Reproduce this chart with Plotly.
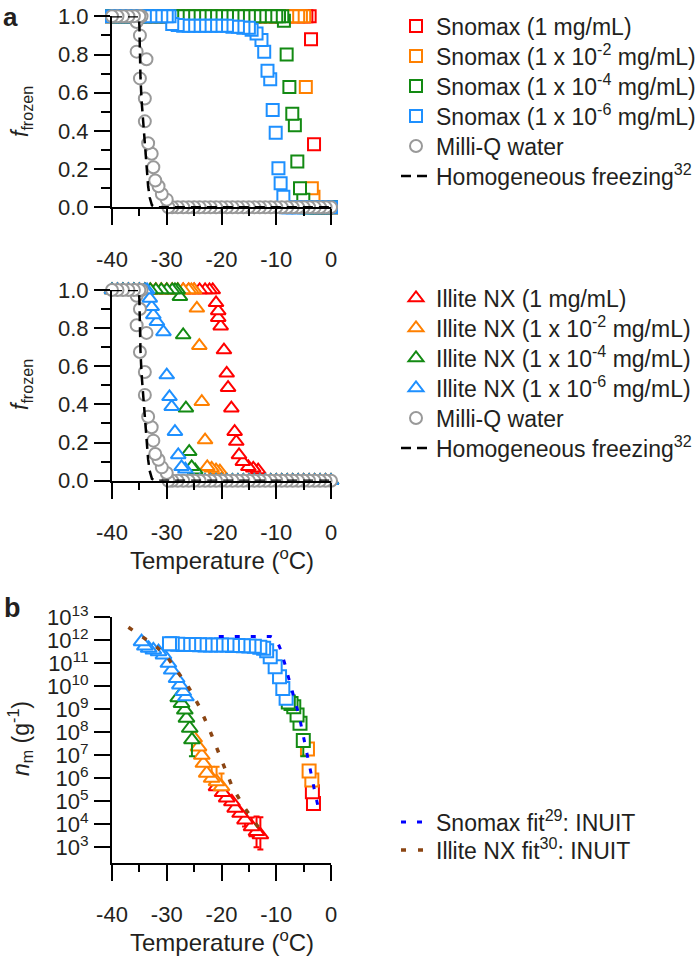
import plotly.graph_objects as go

# ---------------- Panel a (top): Snomax, fraction frozen vs temperature ----------------
T_SNO1 = [0, -1, -2, -2.6, -3.1, -3.65, -3.9, -4.5, -5, -6, -7, -8, -9, -10, -11, -12, -13, -14, -15, -16,
          -17, -18, -19, -20, -21, -22, -23, -24, -25, -26, -27, -28, -29, -30, -31, -32, -33, -34, -35, -36,
          -37, -38, -39, -40]
F_SNO1 = [0, 0, 0, 0, 0.33, 0.88, 1, 1, 1, 1, 1, 1, 1, 1, 1, 1, 1, 1, 1, 1,
          1, 1, 1, 1, 1, 1, 1, 1, 1, 1, 1, 1, 1, 1, 1, 1, 1, 1, 1, 1,
          1, 1, 1, 1]

T_SNO2 = [0, -1, -2, -2.8, -3.2, -3.5, -4.6, -4.9, -5.5, -6, -7, -8, -9, -10, -11, -12, -13, -14, -15, -16,
          -17, -18, -19, -20, -21, -22, -23, -24, -25, -26, -27, -28, -29, -30, -31, -32, -33, -34, -35, -36,
          -37, -38, -39, -40]
F_SNO2 = [0, 0, 0, 0, 0.055, 0.10, 0.63, 1, 1, 1, 1, 1, 1, 1, 1, 1, 1, 1, 1, 1,
          1, 1, 1, 1, 1, 1, 1, 1, 1, 1, 1, 1, 1, 1, 1, 1, 1, 1, 1, 1,
          1, 1, 1, 1]

T_SNO3 = [0, -1, -2, -3, -4, -4.5, -5.06, -5.66, -6.15, -6.6, -7.07, -7.6, -8.1, -8.6, -8.9, -9.5,
          -10, -11, -12, -13, -14, -15, -16, -17, -18, -19, -20, -21, -22, -23, -24, -25, -26, -27, -28, -29,
          -30, -31, -32, -33, -34, -35, -36, -37, -38, -39, -40]
F_SNO3 = [0, 0, 0, 0, 0, 0, 0.04, 0.10, 0.24, 0.43, 0.49, 0.63, 0.80, 0.977, 1, 1,
          1, 1, 1, 1, 1, 1, 1, 1, 1, 1, 1, 1, 1, 1, 1, 1, 1, 1, 1, 1,
          1, 1, 1, 1, 1, 1, 1, 1, 1, 1, 1]

T_SNO4 = [0, -1, -2, -3, -4, -5, -6, -7, -7.7, -8.2,
          -8.7, -9.2, -9.6, -10.1, -10.65, -11.1, -11.6, -12.2, -12.7, -13.6, -14.5,
          -15, -16, -17, -18, -19, -20, -21, -22, -23, -24, -25, -26, -27, -28, -29,
          -29.5, -30, -31, -32, -33, -34, -35, -36, -37, -38, -39, -40]
F_SNO4 = [0, 0, 0, 0, 0, 0, 0, 0, 0, 0,
          0.055, 0.126, 0.204, 0.39, 0.51, 0.67, 0.715, 0.815, 0.876, 0.91, 0.93,
          0.94, 0.94, 0.945, 0.945, 0.95, 0.95, 0.95, 0.95, 0.95, 0.95, 0.95, 0.95, 0.95, 0.955, 0.96,
          1, 1, 1, 1, 1, 1, 1, 1, 1, 1, 1, 1]

# Milli-Q water (shown in both panel a plots)
T_MQ = [0, -1, -2, -3, -4, -5, -6, -7, -8, -9, -10, -11, -12, -13, -14, -15, -16, -17, -18, -19,
        -20, -21, -22, -23, -24, -25, -26, -27, -28, -29,
        -29.7, -30.0, -30.9, -31.5, -32.1, -32.45, -32.75, -33.4, -34.0, -34.0, -34.9, -33.7, -35.5, -34.9, -35.5,
        -34.6, -35, -36, -37, -38, -39, -40]
F_MQ = [0, 0, 0, 0, 0, 0, 0, 0, 0, 0, 0, 0, 0, 0, 0, 0, 0, 0, 0, 0,
        0, 0, 0, 0, 0, 0, 0, 0, 0, 0,
        0, 0.04, 0.07, 0.11, 0.14, 0.21, 0.28, 0.335, 0.45, 0.57, 0.675, 0.775, 0.815, 0.90, 0.97,
        1, 1, 1, 1, 1, 1, 1]

# Homogeneous freezing parameterisation
T_HOM = [-40, -35.1, -35.0, -34.9, -34.8, -34.6, -34.3, -34.0, -33.7, -33.4, -33.1, -32.7, -32.0, 0]
F_HOM = [1, 1, 0.95, 0.8, 0.68, 0.56, 0.44, 0.32, 0.21, 0.11, 0.05, 0.01, 0, 0]

# ---------------- Panel a (bottom): Illite NX ----------------
T_ILL1 = [0, -1, -2, -3, -4, -5, -6, -7, -8, -9, -10, -11, -12, -12.7,
          -13.3, -14.2, -15.1, -16.1, -16.8, -17.3, -17.6, -18.2, -18.8, -19.05, -19.55, -20.15, -20.6, -20.6, -21.0,
          -21.6, -22.2, -23, -24, -25, -26, -27, -28, -29, -30, -31, -32, -33, -34, -35, -36, -37, -38, -39, -40]
F_ILL1 = [0, 0, 0, 0, 0, 0, 0, 0, 0, 0, 0, 0, 0, 0,
          0.056, 0.065, 0.073, 0.10, 0.135, 0.205, 0.257, 0.38, 0.488, 0.563, 0.685, 0.81, 0.855, 0.89, 0.933,
          1, 1, 1, 1, 1, 1, 1, 1, 1, 1, 1, 1, 1, 1, 1, 1, 1, 1, 1, 1]

T_ILL2 = [0, -1, -2, -3, -4, -5, -6, -7, -8, -9, -10, -11, -12, -13, -14, -15, -16, -17, -18, -19, -19.6,
          -20.3, -21.0, -21.8, -22.6, -23.0, -23.6, -24.05, -24.5,
          -25.0, -25.5, -26, -27, -28, -29, -30, -31, -32, -33, -34, -35, -36, -37, -38, -39, -40]
F_ILL2 = [0, 0, 0, 0, 0, 0, 0, 0, 0, 0, 0, 0, 0, 0, 0, 0, 0, 0, 0, 0, 0,
          0.05, 0.056, 0.065, 0.073, 0.213, 0.414, 0.708, 0.904,
          1, 1, 1, 1, 1, 1, 1, 1, 1, 1, 1, 1, 1, 1, 1, 1, 1]

T_ILL3 = [0, -1, -2, -3, -4, -5, -6, -7, -8, -9, -10, -11, -12, -13, -14, -15, -16, -17, -18, -19,
          -20, -21, -22, -23, -24,
          -24.8, -25.45, -25.9, -26.5, -27.0, -27.6,
          -28.0, -28.5, -29, -30, -31, -32, -33, -34, -35, -36, -37, -38, -39, -40]
F_ILL3 = [0, 0, 0, 0, 0, 0, 0, 0, 0, 0, 0, 0, 0, 0, 0, 0, 0, 0, 0, 0,
          0, 0, 0, 0, 0,
          0.055, 0.073, 0.152, 0.38, 0.764, 0.965,
          1, 1, 1, 1, 1, 1, 1, 1, 1, 1, 1, 1, 1, 1]

T_ILL4 = [0, -1, -2, -3, -4, -5, -6, -7, -8, -9, -10, -11, -12, -13, -14, -15, -16, -17, -18, -19,
          -20, -21, -22, -23, -24, -25, -26,
          -26.6, -27.3, -27.9, -28.5, -29.1, -29.5, -30.0, -30.6, -31.8, -32.45, -32.75, -33.1,
          -33.6, -34, -35, -36, -37, -38, -39, -40]
F_ILL4 = [0, 0, 0, 0, 0, 0, 0, 0, 0, 0, 0, 0, 0, 0, 0, 0, 0, 0, 0, 0,
          0, 0, 0, 0, 0, 0, 0,
          0.06, 0.073, 0.135, 0.257, 0.388, 0.44, 0.554, 0.78, 0.834, 0.869, 0.912, 0.956,
          1, 1, 1, 1, 1, 1, 1, 1]

# ---------------- Panel b: ice nucleation active site density n_m (g^-1) ----------------
T_NS1 = [-3.2, -3.4]
N_NS1 = [8.0e4, 2.6e5]
T_NS2 = [-3.5, -4.0, -4.3]
N_NS2 = [8.5e5, 2.1e6, 1.9e7]
T_NS3 = [-5.06, -5.66, -6.2, -6.8, -7.3, -7.8]
N_NS3 = [4.4e7, 2.5e8, 5.6e8, 1.3e9, 1.8e9, 2.1e9]
E_NS3_MINUS = [3.5e7, 0, 0, 0, 0, 0]
T_NS4 = [-8.2, -8.8, -9.4, -10.2, -11.1, -11.75, -12.3, -13, -14, -15, -16, -17, -18, -19, -20,
         -21, -22, -23, -24, -25, -26, -27, -28, -29, -29.5]
N_NS4 = [3.0e9, 8.1e9, 2.6e10, 7.1e10, 1.95e11, 3.5e11, 4.5e11, 5.0e11, 5.5e11, 5.6e11, 5.8e11, 6.0e11,
         6.0e11, 6.2e11, 6.2e11, 6.3e11, 6.3e11, 6.3e11, 6.4e11, 6.5e11, 6.6e11, 6.6e11, 6.8e11, 7.0e11, 7.1e11]

T_NI1 = [-12.9, -13.6, -14.5, -15.7, -16.6, -17.5, -18.1, -19.05, -19.8, -20.9]
N_NI1 = [3.5e3, 4.8e3, 7.9e3, 1.55e4, 3.0e4, 5.0e4, 9.5e4, 1.4e5, 2.4e5, 4.3e5]
E_NI1_PLUS = [1.65e4, 1.7e4, 1.2e4, 1.45e4, 0, 0, 0, 0, 0, 0]
E_NI1_MINUS = [2.7e3, 3.8e3, 4.9e3, 7.5e3, 0, 0, 0, 0, 0, 0]
T_NI2 = [-20.0, -20.9, -21.8, -22.7, -23.3, -23.6, -24.2, -25.0]
N_NI2 = [4.3e5, 7.1e5, 1.0e6, 1.66e6, 4.5e6, 1.0e7, 2.3e7, 5.6e7]
E_NI2_PLUS = [1.2e6, 2.5e6, 2.2e6, 0, 0, 0, 0, 0]
E_NI2_MINUS = [0, 0, 0, 0, 0, 0, 0, 0]
T_NI3 = [-25.4, -25.8, -26.4, -26.7, -27.3, -27.9]
N_NI3 = [4.7e7, 1.5e8, 4.1e8, 9.3e8, 1.8e9, 3.2e9]
E_NI3_MINUS = [3.8e7, 0, 0, 0, 0, 0]
T_NI4 = [-26.5, -27.0, -27.6, -28.2, -29.1, -29.7, -30.6, -31.5, -32.45, -33.3, -34.0, -34.6]
N_NI4 = [3.5e9, 5.9e9, 1.15e10, 2.2e10, 5.1e10, 1.0e11, 2.3e11, 3.2e11, 3.8e11, 4.5e11, 5.6e11, 8.7e11]

# INUIT fits
T_FIT_SNO = [-20.5, -17, -14, -11, -10, -9.3, -8.4, -7.6, -6.8, -5.8, -4.9, -4.2, -3.5, -2.9, -2.3]
N_FIT_SNO = [1.45e12, 1.45e12, 1.45e12, 1.45e12, 1.12e12, 4.5e11, 8.9e10, 1.6e10, 3.5e9, 5.0e8,
             4.0e7, 6.3e6, 1.12e6, 2.2e5, 5.0e4]
T_FIT_ILL = [-37.0, -34.5, -32.0, -30.0, -28.0, -26.0, -24.0, -22.0, -20.0, -18.0, -16.0, -14.0, -12.3]
N_FIT_ILL = [3.7e12, 1.4e12, 5.6e11, 2.0e11, 4.0e10, 8.9e9, 1.26e9, 1.0e8, 6.3e6, 4.0e5, 6.3e4, 1.26e4, 4.0e3]

# tick labels
X_TICKS = [-40, -30, -20, -10, 0]
X_TICKTEXT = ['-40', '-30', '-20', '-10', '0']
F_TICKS = [0, 0.2, 0.4, 0.6, 0.8, 1.0]
F_TICKTEXT = ['0.0', '0.2', '0.4', '0.6', '0.8', '1.0']
N_TICKS = [1e3, 1e4, 1e5, 1e6, 1e7, 1e8, 1e9, 1e10, 1e11, 1e12, 1e13]
N_TICKTEXT = ['10<sup>3</sup>', '10<sup>4</sup>', '10<sup>5</sup>', '10<sup>6</sup>', '10<sup>7</sup>',
              '10<sup>8</sup>', '10<sup>9</sup>', '10<sup>10</sup>', '10<sup>11</sup>', '10<sup>12</sup>',
              '10<sup>13</sup>']

SNO_NAMES = ['Snomax (1 mg/mL)', 'Snomax (1 x 10<sup>-2</sup> mg/mL)',
             'Snomax (1 x 10<sup>-4</sup> mg/mL)', 'Snomax (1 x 10<sup>-6</sup> mg/mL)']
ILL_NAMES = ['Illite NX (1 mg/mL)', 'Illite NX (1 x 10<sup>-2</sup> mg/mL)',
             'Illite NX (1 x 10<sup>-4</sup> mg/mL)', 'Illite NX (1 x 10<sup>-6</sup> mg/mL)']

for a, b in [(T_SNO1, F_SNO1), (T_SNO2, F_SNO2), (T_SNO3, F_SNO3), (T_SNO4, F_SNO4), (T_MQ, F_MQ),
             (T_ILL1, F_ILL1), (T_ILL2, F_ILL2), (T_ILL3, F_ILL3), (T_ILL4, F_ILL4)]:
    assert len(a) == len(b), (len(a), len(b))

# ---------------- styling ----------------
W, H = 697, 956
RED, ORANGE, GREEN, BLUE, GREY = '#FF0000', '#FF8000', '#138A13', '#1E90FF', '#999999'
TXT = '#231F20'
FONT = 'Liberation Sans, Arial, Helvetica, sans-serif'
COLORS = [RED, ORANGE, GREEN, BLUE]

# legend row centres (pixels from top) - one single-entry legend per row
LEG_X = 396
LEG_ROWS_A1 = [26, 56, 86, 116, 146, 176]
LEG_ROWS_A2 = [298, 328, 358, 388, 418, 448]
LEG_ROWS_B = [822, 850]


def px(x):
    return x / W


def py(y):
    return 1 - y / H


fig = go.Figure()
legend_layout = {}
legend_counter = [0]


def next_legend(row_y):
    legend_counter[0] += 1
    k = legend_counter[0]
    lid = 'legend' if k == 1 else 'legend%d' % k
    legend_layout[lid] = dict(x=px(LEG_X), y=py(row_y), xanchor='left', yanchor='middle',
                              xref='container', yref='container', bgcolor='rgba(0,0,0,0)',
                              borderwidth=0, font=dict(size=23, color=TXT, family=FONT),
                              itemsizing='trace')
    return lid


def add_markers(T, Y, symbol, color, name, ax, row_y=None, size=12, eplus=None, eminus=None):
    kw = {}
    if eplus is not None or eminus is not None:
        kw['error_y'] = dict(type='data', symmetric=False,
                             array=eplus if eplus is not None else [0] * len(T),
                             arrayminus=eminus if eminus is not None else [0] * len(T),
                             color=color, thickness=2, width=3)
    if row_y is not None:
        kw['legend'] = next_legend(row_y)
    fig.add_trace(go.Scatter(
        x=T, y=Y, mode='markers', name=name,
        marker=dict(symbol=symbol, size=size, color='white', line=dict(color=color, width=2)),
        xaxis='x' + ax, yaxis='y' + ax, showlegend=row_y is not None,
        cliponaxis=False, **kw))


def add_line(T, Y, color, width, dash, name, ax, row_y):
    fig.add_trace(go.Scatter(
        x=T, y=Y, mode='lines', name=name, line=dict(color=color, width=width, dash=dash),
        xaxis='x' + ax, yaxis='y' + ax, legend=next_legend(row_y), showlegend=True, cliponaxis=True))


# Panel a top
for (T, F), c, n, r in zip([(T_SNO1, F_SNO1), (T_SNO2, F_SNO2), (T_SNO3, F_SNO3), (T_SNO4, F_SNO4)],
                           COLORS, SNO_NAMES, LEG_ROWS_A1):
    add_markers(T, F, 'square', c, n, '', r)
add_markers(T_MQ, F_MQ, 'circle', GREY, 'Milli-Q water', '', LEG_ROWS_A1[4])
add_line(T_HOM, F_HOM, 'black', 2.5, '10px,6px', 'Homogeneous freezing<sup>32</sup>', '', LEG_ROWS_A1[5])

# Panel a bottom
for (T, F), c, n, r in zip([(T_ILL1, F_ILL1), (T_ILL2, F_ILL2), (T_ILL3, F_ILL3), (T_ILL4, F_ILL4)],
                           COLORS, ILL_NAMES, LEG_ROWS_A2):
    add_markers(T, F, 'triangle-up', c, n, '2', r, size=13)
add_markers(T_MQ, F_MQ, 'circle', GREY, 'Milli-Q water', '2', LEG_ROWS_A2[4])
add_line(T_HOM, F_HOM, 'black', 2.5, '10px,6px', 'Homogeneous freezing<sup>32</sup>', '2', LEG_ROWS_A2[5])

# Panel b
add_markers(T_NI1, N_NI1, 'triangle-up', RED, ILL_NAMES[0], '3', size=14, eplus=E_NI1_PLUS, eminus=E_NI1_MINUS)
add_markers(T_NI2, N_NI2, 'triangle-up', ORANGE, ILL_NAMES[1], '3', size=14, eplus=E_NI2_PLUS, eminus=E_NI2_MINUS)
add_markers(T_NI3, N_NI3, 'triangle-up', GREEN, ILL_NAMES[2], '3', size=14, eminus=E_NI3_MINUS)
add_markers(T_NI4, N_NI4, 'triangle-up', BLUE, ILL_NAMES[3], '3', size=14)
add_markers(T_NS1, N_NS1, 'square', RED, SNO_NAMES[0], '3', size=13)
add_markers(T_NS2, N_NS2, 'square', ORANGE, SNO_NAMES[1], '3', size=13)
add_markers(T_NS3, N_NS3, 'square', GREEN, SNO_NAMES[2], '3', size=13, eminus=E_NS3_MINUS)
add_markers(T_NS4, N_NS4, 'square', BLUE, SNO_NAMES[3], '3', size=13)
add_line(T_FIT_SNO, N_FIT_SNO, '#0000FF', 3, '5px,11px', 'Snomax fit<sup>29</sup>: INUIT', '3', LEG_ROWS_B[0])
add_line(T_FIT_ILL, N_FIT_ILL, '#8B4513', 3.5, '5px,12px', 'Illite NX fit<sup>30</sup>: INUIT', '3', LEG_ROWS_B[1])

# ---------------- axes ----------------
tickfont = dict(size=22, color=TXT, family=FONT)
XDOM = [px(112), px(331)]


def xaxis(anchor):
    return dict(domain=XDOM, anchor=anchor, range=[-40, 0], tickmode='array', tickvals=X_TICKS,
                ticktext=X_TICKTEXT, ticks='outside', ticklen=16, tickwidth=2, tickcolor='black',
                showline=True, linewidth=2, linecolor='black', showgrid=False, zeroline=False,
                tickfont=tickfont, ticklabelstandoff=15, automargin=False,
                minor=dict(tickmode='linear', tick0=-40, dtick=5, ticks='outside', ticklen=7,
                           tickwidth=2, tickcolor='black', showgrid=False))


def faxis(anchor, dom):
    return dict(domain=dom, anchor=anchor, range=[0, 1], tickmode='array', tickvals=F_TICKS,
                ticktext=F_TICKTEXT, ticks='outside', ticklen=16, tickwidth=2, tickcolor='black',
                showline=True, linewidth=2, linecolor='black', showgrid=False, zeroline=False,
                tickfont=tickfont, ticklabelstandoff=1, automargin=False,
                minor=dict(tickmode='linear', tick0=0, dtick=0.1, ticks='outside', ticklen=9,
                           tickwidth=2, tickcolor='black', showgrid=False))


fig.update_layout(
    width=W, height=H, margin=dict(l=0, r=0, t=0, b=0, autoexpand=False),
    paper_bgcolor='white', plot_bgcolor='rgba(0,0,0,0)',
    font=dict(family=FONT, color=TXT),
    xaxis=xaxis('y'), yaxis=faxis('x', [py(207.3), py(16.3)]),
    xaxis2=xaxis('y2'), yaxis2=faxis('x2', [py(480.7), py(290)]),
    xaxis3=xaxis('y3'),
    yaxis3=dict(domain=[py(862.7), py(617.3)], anchor='x3', type='log', range=[2.33, 13],
                tickmode='array', tickvals=N_TICKS, ticktext=N_TICKTEXT, ticks='outside', ticklen=16,
                tickwidth=2, tickcolor='black', showline=True, linewidth=2, linecolor='black',
                showgrid=False, zeroline=False, tickfont=tickfont, ticklabelstandoff=1, automargin=False),
    showlegend=True,
    **legend_layout,
)

ann_font = dict(size=23, color=TXT, family=FONT)
annotations = [
    dict(text='<b>a</b>', x=px(10), y=py(0), yanchor='top', font=dict(size=26, color=TXT, family=FONT)),
    dict(text='<b>b</b>', x=px(12), y=py(608), font=dict(size=27, color=TXT, family=FONT)),
    dict(text='<i>f</i><sub>frozen</sub>', x=px(22), y=py(112), textangle=-90, font=ann_font),
    dict(text='<i>f</i><sub>frozen</sub>', x=px(22), y=py(385), textangle=-90, font=ann_font),
    dict(text='<i>n</i><sub>m</sub> (g<sup>-1</sup>)', x=px(20), y=py(739), textangle=-90, font=ann_font),
    dict(text='Temperature (<sup>o</sup>C)', x=px(221.5), y=py(559), font=dict(size=24, color=TXT, family=FONT)),
    dict(text='Temperature (<sup>o</sup>C)', x=px(221.5), y=py(941), font=dict(size=24, color=TXT, family=FONT)),
]
for a in annotations:
    a.setdefault('yanchor', 'middle')
    a.update(xref='paper', yref='paper', showarrow=False, xanchor='center')
fig.update_layout(annotations=annotations)

fig.write_html('out.html', config={'displayModeBar': False, 'staticPlot': True},
               post_script="document.body.style.margin='0';document.body.style.padding='0';"
                           "document.documentElement.style.overflow='hidden';")
